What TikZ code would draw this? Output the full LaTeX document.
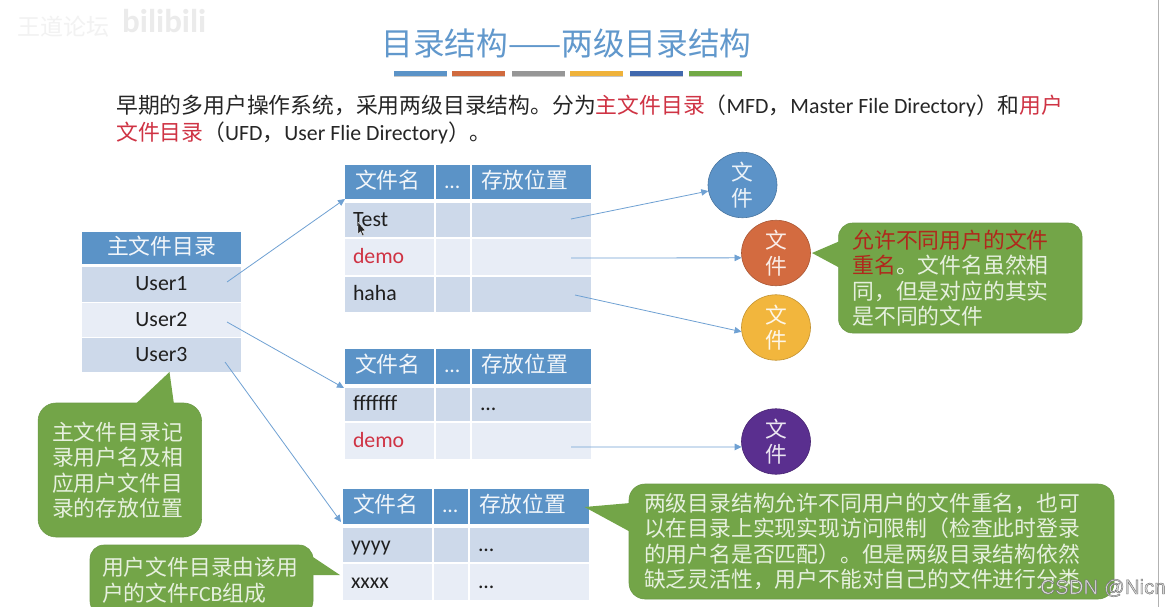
\documentclass[tikz,border=0pt]{standalone}
\usepackage{fontspec}
\setmainfont{Carlito}
\newfontfamily\cjk{Noto Sans CJK SC}
\newfontfamily\markfont{Liberation Sans}
\usetikzlibrary{shapes.geometric,arrows.meta}
\definecolor{hdrblue}{HTML}{5B93C7}
\definecolor{rowdark}{HTML}{CDD9EA}
\definecolor{rowlight}{HTML}{E8EDF6}
\definecolor{notegreen}{HTML}{73A548}
\definecolor{noteedge}{HTML}{6C9A47}
\definecolor{notetext}{HTML}{E6F0DE}
\definecolor{titleblue}{HTML}{6198CC}
\definecolor{bodyred}{HTML}{CF3344}
\definecolor{noteRed}{HTML}{B0281C}
\definecolor{linkblue}{HTML}{6FA1D3}
\definecolor{fblue}{HTML}{5C93C8}
\definecolor{forange}{HTML}{D36B40}
\definecolor{fyellow}{HTML}{F2B63D}
\definecolor{fpurple}{HTML}{5A2F8F}
\definecolor{bar1}{HTML}{5B93C7}
\definecolor{bar2}{HTML}{D06A3E}
\definecolor{bar3}{HTML}{969696}
\definecolor{bar4}{HTML}{EFB23A}
\definecolor{bar5}{HTML}{4169AE}
\definecolor{bar6}{HTML}{72A946}
\newcommand{\szA}{\fontsize{21.8}{25.5}\selectfont}
\tikzset{
  x=1pt,y=-1pt,
  tcell/.style={inner ysep=0pt,inner xsep=8pt,outer sep=0pt,text height=15.5pt,text depth=3pt,font=\szA},
  hdr/.style={tcell,fill=hdrblue,text=white!92!hdrblue,align=left},
  rowd/.style={tcell,fill=rowdark,text=black!88,align=left},
  rowl/.style={tcell,fill=rowlight,text=black!88,align=left},
  mid/.style={align=center},
  notebox/.style={draw=noteedge,line width=0.6pt,fill=notegreen,rounded corners=#1,text=notetext,
    align=left,inner xsep=14pt,inner ysep=0pt,outer sep=0pt,font=\szA\cjk},
  notebox/.default=16pt,
  tail/.style={fill=notegreen,draw=none},
  filecirc/.style={ellipse,draw=#1!80!black,line width=0.6pt,fill=#1,text=white!88!#1,align=center,
    inner sep=0pt,minimum width=69pt,minimum height=65.5pt,font=\szA\cjk},
  link/.style={draw=linkblue,line width=0.8pt,-{Triangle[length=7pt,width=6.5pt,fill=linkblue]}},
  barshade/.style={fill=black!22,draw=none},
  textline/.style={inner sep=0pt,anchor=west,font=\szA,text=black!85},
}
\newcommand{\tcell}[7]{%
  \pgfmathsetmacro{\tcw}{#4-#2}%
  \pgfmathsetmacro{\tch}{#5-#3}%
  \pgfmathsetmacro{\tctw}{#4-#2-16}%
  \pgfmathsetmacro{\tcx}{(#2+#4)/2}%
  \pgfmathsetmacro{\tcy}{(#3+#5)/2}%
  \node[#6,minimum width=\tcw pt,minimum height=\tch pt,text width=\tctw pt] (#1) at (\tcx,\tcy) {#7};%
}
\newcommand{\hname}{\hspace*{2pt}\cjk 文件名}
\newcommand{\hplace}{\hspace*{1pt}\cjk 存放位置}
\begin{document}
\begin{tikzpicture}
\useasboundingbox (0,0) rectangle (1170,607);
\clip (0,0) rectangle (1170,607);
\fill[white] (0,0) rectangle (1170,607);

% watermark
\node[inner sep=0pt,anchor=west,text=black!5,font=\fontsize{23}{25}\selectfont\cjk] (wm1) at (17,27) {王道论坛};
\node[inner sep=0pt,anchor=west,text=black!8,font=\fontsize{33}{36}\selectfont\bfseries] (wm2) at (122,21) {bilibili};

% right page edge
\draw[black!30,line width=0.8pt] (1158,0) -- (1158,607);

% title
\node[inner sep=0pt,text=titleblue,font=\fontsize{31.7}{36}\selectfont\cjk] (title) at (566.5,43) {目录结构——两级目录结构};
\foreach \xa/\c in {394/bar1,452/bar2,512/bar3,570/bar4,630/bar5,689/bar6}{
  \fill[barshade] (\xa,72.5) rectangle ++(53,5);
  \fill[\c] (\xa,71) rectangle ++(53,4.6);
}

% intro text
\node[textline] (intro1) at (116,106) {{\cjk 早期的多用户操作系统，采用两级目录结构。分为}{\color{bodyred}\cjk 主文件目录}{\cjk （}MFD{\cjk ，}Master File Directory{\cjk ）和}{\color{bodyred}\cjk 用户}};
\node[textline] (intro2) at (116,133) {{\color{bodyred}\cjk 文件目录}{\cjk （}UFD{\cjk ，}User Flie Directory{\cjk ）。}};

% master table
\tcell{mh}{82}{232}{241}{264}{hdr,mid}{\cjk 主文件目录}
\tcell{u1}{82}{267}{241}{302}{rowd,mid}{User1}
\tcell{u2}{82}{303}{241}{337}{rowl,mid}{User2}
\tcell{u3}{82}{338}{241}{372}{rowd,mid}{User3}

% table 1
\tcell{ah1}{345}{165}{434}{199}{hdr}{\hname}
\tcell{ah2}{436}{165}{470}{199}{hdr}{...}
\tcell{ah3}{472}{165}{591}{199}{hdr}{\hplace}
\tcell{a11}{345}{203}{434}{237}{rowd}{Test}
\tcell{a12}{436}{203}{470}{237}{rowd}{}
\tcell{a13}{472}{203}{591}{237}{rowd}{}
\tcell{a21}{345}{239}{434}{275}{rowl}{\color{bodyred}demo}
\tcell{a22}{436}{239}{470}{275}{rowl}{}
\tcell{a23}{472}{239}{591}{275}{rowl}{}
\tcell{a31}{345}{277}{434}{312}{rowd}{haha}
\tcell{a32}{436}{277}{470}{312}{rowd}{}
\tcell{a33}{472}{277}{591}{312}{rowd}{}

% table 2
\tcell{bh1}{345}{349}{434}{384}{hdr}{\hname}
\tcell{bh2}{436}{349}{470}{384}{hdr}{...}
\tcell{bh3}{472}{349}{591}{384}{hdr}{\hplace}
\tcell{b11}{345}{388}{434}{421}{rowd}{fffffff}
\tcell{b12}{436}{388}{470}{421}{rowd}{}
\tcell{b13}{472}{388}{591}{421}{rowd}{...}
\tcell{b21}{345}{423}{434}{459}{rowl}{\color{bodyred}demo}
\tcell{b22}{436}{423}{470}{459}{rowl}{}
\tcell{b23}{472}{423}{591}{459}{rowl}{}

% table 3
\tcell{ch1}{343}{489}{432}{524}{hdr}{\hname}
\tcell{ch2}{434}{489}{468}{524}{hdr}{...}
\tcell{ch3}{470}{489}{589}{524}{hdr}{\hplace}
\tcell{c11}{343}{528}{432}{562}{rowd}{yyyy}
\tcell{c12}{434}{528}{468}{562}{rowd}{}
\tcell{c13}{470}{528}{589}{562}{rowd}{...}
\tcell{c21}{343}{564}{432}{600}{rowl}{xxxx}
\tcell{c22}{434}{564}{468}{600}{rowl}{}
\tcell{c23}{470}{564}{589}{600}{rowl}{...}

% mouse cursor
\fill[black!85,draw=white,line width=0.3pt] (358,222) -- (358,234) -- (360.6,231.6) -- (362.6,236) -- (364,235.2) -- (362,231) -- (365.4,230.6) -- cycle;

% files
\node[filecirc=fblue] (f1) at (742.5,185) {文\\件};
\node[filecirc=forange] (f2) at (776,253) {文\\件};
\node[filecirc=fyellow] (f3) at (776,327.5) {文\\件};
\node[filecirc=fpurple] (f4) at (776,441.5) {文\\件};

% connectors
\coordinate (s1) at (227,282);
\coordinate (s2) at (227,322);
\coordinate (s3) at (225,362);
\coordinate (e1) at (571,219);
\coordinate (e2) at (571,258);
\coordinate (e3) at (575,295);
\coordinate (e4) at (571,447);
\draw[link] (s1) -- (ah1.south west);
\draw[link] (s2) -- ([shift={(-1,4)}]bh1.south west);
\draw[link] (s3) -- ([shift={(-2,-2)}]ch1.south west);
\draw[link] (e1) -- (f1.190);
\draw[link] (e2) -- (f2.188);
\draw[link] (e3) -- (f3.187);
\draw[link] (e4) -- (f4.189);

% callouts
\node[notebox=18pt,minimum width=163.5pt,minimum height=134pt,text width=135.5pt] (n1) at (119.8,470) {主文件目录记\\录用户名及相\\应用户文件目\\录的存放位置};
\fill[tail] (169.5,372) -- (135,404.5) -- (174,404.5) -- cycle;

\node[notebox=14pt,inner xsep=12pt,minimum width=223pt,minimum height=70pt,text width=199pt] (n2) at (201.5,580) {用户文件目录由该用\\户的文件{\rmfamily FCB}组成};
\fill[tail] (340,575) -- (311.5,575) -- (311.5,556) -- (313,557) -- cycle;

\node[notebox=14pt,minimum width=243.5pt,minimum height=110pt,text width=215.5pt] (n3) at (960.3,278) {{\color{noteRed}允许不同用户的文件}\\{\color{noteRed}重名}。文件名虽然相\\同，但是对应的其实\\是不同的文件};
\fill[tail] (812,253) -- (840,241) -- (840,268) -- cycle;

\node[notebox=16pt,inner xsep=15pt,minimum width=485pt,minimum height=115pt,text width=455pt] (n4) at (871.5,541.5) {两级目录结构允许不同用户的文件重名，也可\\以在目录上实现实现访问限制（检查此时登录\\的用户名是否匹配）。但是两级目录结构依然\\缺乏灵活性，用户不能对自己的文件进行分类};
\fill[tail] (584.5,507) -- (630.5,503) -- (630.5,532) -- cycle;

% csdn mark
\node[inner sep=0pt,anchor=west,text=black!55,font=\fontsize{20.5}{24}\selectfont\markfont] (wm3) at (1040,588) {\special{pdf:code q 2 Tr 0.4 w 0.42 G 0.85 g}CSDN @Nicn\special{pdf:code Q}};
\end{tikzpicture}
\end{document}
